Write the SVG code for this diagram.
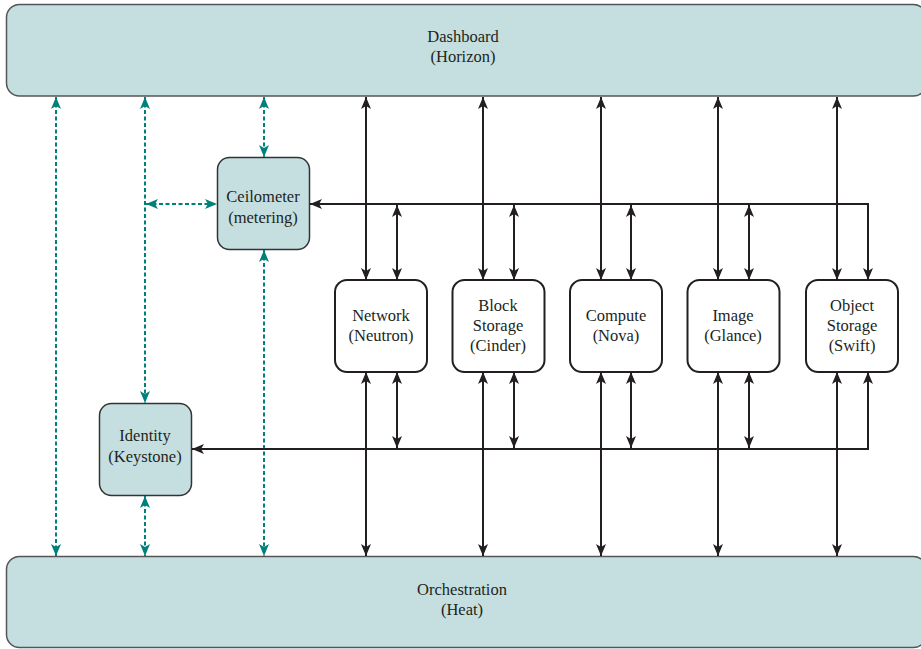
<svg xmlns="http://www.w3.org/2000/svg" width="921" height="649" viewBox="0 0 921 649">
<style>
.big{fill:#c5dfe1;stroke:#555;stroke-width:1.5}
.tbox{fill:#c5dfe1;stroke:#333;stroke-width:1.5}
.svc{fill:#fff;stroke:#231f20;stroke-width:2}
text{font-family:"Liberation Serif","Times New Roman",serif;font-size:16.5px;fill:#231f20;text-anchor:middle}
.k{stroke:#231f20;stroke-width:2;fill:none}
.t{stroke:#00807a;stroke-width:2;fill:none;stroke-dasharray:4 2.5}
.ka{marker-end:url(#ak)}
.kb{marker-start:url(#ak);marker-end:url(#ak)}
.tb{marker-start:url(#at);marker-end:url(#at)}
</style>
<defs>
<marker id="ak" markerUnits="userSpaceOnUse" markerWidth="12" markerHeight="10" refX="12" refY="5" orient="auto-start-reverse" viewBox="0 0 12 10">
<path d="M0,0 L12,5 L0,10 L3,5 z" fill="#231f20"/>
</marker>
<marker id="at" markerUnits="userSpaceOnUse" markerWidth="12" markerHeight="10" refX="12" refY="5" orient="auto-start-reverse" viewBox="0 0 12 10">
<path d="M0,0 L12,5 L0,10 L3,5 z" fill="#00807a"/>
</marker>
</defs>
<g id="dashboard">
<rect class="big" x="6.5" y="4.5" width="920" height="91.5" rx="13"/>
<text x="463" y="42">Dashboard</text>
<text x="463" y="62">(Horizon)</text>
</g>
<g id="orchestration">
<rect class="big" x="6.5" y="556.5" width="920" height="91" rx="13"/>
<text x="462" y="595">Orchestration</text>
<text x="462" y="615">(Heat)</text>
</g>
<g id="ceilometer">
<rect class="tbox" x="217.5" y="157.5" width="92" height="92" rx="12"/>
<text x="263" y="202">Ceilometer</text>
<text x="263" y="223">(metering)</text>
</g>
<g id="identity">
<rect class="tbox" x="99.5" y="403.5" width="92" height="92" rx="12"/>
<text x="145" y="441">Identity</text>
<text x="145" y="462">(Keystone)</text>
</g>
<g id="network">
<rect class="svc" x="335" y="280" width="92" height="92" rx="12"/>
<text x="381" y="321">Network</text>
<text x="381" y="341">(Neutron)</text>
</g>
<g id="block-storage">
<rect class="svc" x="452.5" y="280" width="92" height="92" rx="12"/>
<text x="498" y="311">Block</text>
<text x="498" y="331">Storage</text>
<text x="498" y="351">(Cinder)</text>
</g>
<g id="compute">
<rect class="svc" x="570" y="280" width="92" height="92" rx="12"/>
<text x="616" y="321">Compute</text>
<text x="616" y="341">(Nova)</text>
</g>
<g id="image">
<rect class="svc" x="687.5" y="280" width="92" height="92" rx="12"/>
<text x="733" y="321">Image</text>
<text x="733" y="341">(Glance)</text>
</g>
<g id="object-storage">
<rect class="svc" x="806" y="280" width="92" height="92" rx="12"/>
<text x="852" y="311">Object</text>
<text x="852" y="331">Storage</text>
<text x="852" y="351">(Swift)</text>
</g>
<g id="connectors">
<line class="t tb" x1="56" y1="97" x2="56" y2="556"/>
<line class="t tb" x1="145" y1="97" x2="145" y2="403"/>
<line class="t tb" x1="146" y1="204" x2="217" y2="204"/>
<line class="t tb" x1="264" y1="97" x2="264" y2="157"/>
<line class="t tb" x1="264" y1="250" x2="264" y2="556"/>
<line class="t tb" x1="145" y1="496" x2="145" y2="556"/>
<line class="k kb" x1="366" y1="97" x2="366" y2="280"/>
<line class="k kb" x1="483" y1="97" x2="483" y2="280"/>
<line class="k kb" x1="601" y1="97" x2="601" y2="280"/>
<line class="k kb" x1="718" y1="97" x2="718" y2="280"/>
<line class="k kb" x1="837" y1="97" x2="837" y2="280"/>
<line class="k kb" x1="366" y1="372" x2="366" y2="556"/>
<line class="k kb" x1="483" y1="372" x2="483" y2="556"/>
<line class="k kb" x1="601" y1="372" x2="601" y2="556"/>
<line class="k kb" x1="718" y1="372" x2="718" y2="556"/>
<line class="k kb" x1="837" y1="372" x2="837" y2="556"/>
<polyline class="k kb" points="868,280 868,204 310,204"/>
<line class="k kb" x1="397" y1="205" x2="397" y2="280"/>
<line class="k kb" x1="514" y1="205" x2="514" y2="280"/>
<line class="k kb" x1="631" y1="205" x2="631" y2="280"/>
<line class="k kb" x1="749" y1="205" x2="749" y2="280"/>
<polyline class="k kb" points="868,372 868,449 192,449"/>
<line class="k kb" x1="397" y1="372" x2="397" y2="448"/>
<line class="k kb" x1="514" y1="372" x2="514" y2="448"/>
<line class="k kb" x1="631" y1="372" x2="631" y2="448"/>
<line class="k kb" x1="749" y1="372" x2="749" y2="448"/>
</g>
</svg>
